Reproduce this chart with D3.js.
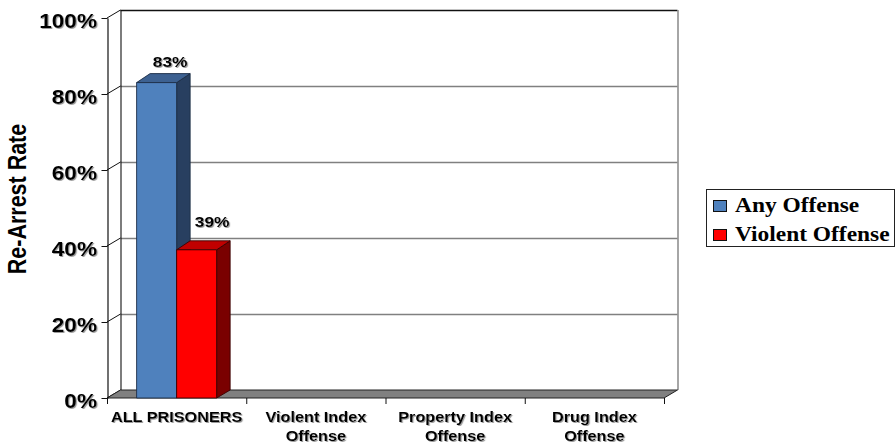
<!DOCTYPE html>
<html>
<head>
<meta charset="utf-8">
<script src="https://cdn.jsdelivr.net/npm/d3@7"></script>
<style>
  html, body { margin: 0; padding: 0; background: #fff; }
  svg { display: block; }
</style>
</head>
<body>
<svg id="chart" width="896" height="445"></svg>
<script>
// ---- data ----
const categories = ["ALL PRISONERS", "Violent Index\nOffense", "Property Index\nOffense", "Drug Index\nOffense"];
const seriesNames = ["Any Offense", "Violent Offense"];
const anyOffense = [0.83, null, null, null];
const violentOffense = [0.39, null, null, null];
const yTicks = [0, 0.2, 0.4, 0.6, 0.8, 1.0];
const yTitle = "Re-Arrest Rate";

// ---- style ----
const SX = 1.16; // horizontal stretch of the original image
const seriesStyle = [
  { front: "#4F81BD", top: "#3D6191", side: "#283F60", stroke: "#1c2d45", labelDx: 13.5, labelDy: 16 },
  { front: "#FF0000", top: "#C00000", side: "#7A0000", stroke: "#3a0000", labelDx: 15.5, labelDy: 22.5 }
];
const seriesValues = [anyOffense, violentOffense];

const svg = d3.select("#chart");
const defs = svg.append("defs");
const f = defs.append("filter").attr("id", "shadow").attr("x", "-10%").attr("y", "-20%").attr("width", "130%").attr("height", "160%");
f.append("feDropShadow").attr("dx", 1).attr("dy", 1).attr("stdDeviation", 0.6)
  .attr("flood-color", "#666").attr("flood-opacity", 0.65);

// ---- scales ----
const x = d3.scaleBand().domain(categories).range([107, 664]).paddingInner(0).paddingOuter(0);
const xs = d3.scaleBand().domain(seriesNames).range([0, x.bandwidth()]).paddingInner(0).paddingOuter(0.74);
const y = d3.scaleLinear().domain([0, 1]).range([398, 18]);
const DX = 13.5, DY = 8;

const x0 = x.range()[0], x1 = x.range()[1];

// ---- back wall ----
const wall = svg.append("g");
wall.selectAll("line.grid").data(yTicks.filter(t => t > 0 && t < 1)).join("line")
  .attr("x1", x0 + DX).attr("x2", x1 + DX)
  .attr("y1", d => y(d) - DY + 0.5).attr("y2", d => y(d) - DY + 0.5)
  .attr("stroke", "#808080").attr("stroke-width", 1.4);
// top edge
wall.append("line").attr("x1", x0 + DX).attr("x2", x1 + DX)
  .attr("y1", y(1) - DY + 0.5).attr("y2", y(1) - DY + 0.5)
  .attr("stroke", "#111").attr("stroke-width", 1.3);
// right edge
wall.append("line").attr("x1", x1 + DX + 0.5).attr("x2", x1 + DX + 0.5)
  .attr("y1", y(1) - DY).attr("y2", y(0) - DY)
  .attr("stroke", "#808080").attr("stroke-width", 1.4);
// left back edge
wall.append("line").attr("x1", x0 + DX + 0.5).attr("x2", x0 + DX + 0.5)
  .attr("y1", y(1) - DY).attr("y2", y(0) - DY)
  .attr("stroke", "#111").attr("stroke-width", 1.1);
// side wall diagonals
wall.selectAll("line.diag").data(yTicks).join("line")
  .attr("x1", x0).attr("y1", d => y(d))
  .attr("x2", x0 + DX).attr("y2", d => y(d) - DY)
  .attr("stroke", "#111").attr("stroke-width", 1);

// ---- floor ----
svg.append("polygon")
  .attr("points", [[x0, y(0)], [x1, y(0)], [x1 + DX, y(0) - DY], [x0 + DX, y(0) - DY]].map(p => p.join(",")).join(" "))
  .attr("fill", "#808080").attr("stroke", "#222").attr("stroke-width", 1);

// ---- y axis ----
const yAxis = d3.axisLeft(y).tickValues(yTicks).tickFormat(d3.format(".0%")).tickSize(6).tickSizeOuter(0);
const ya = svg.append("g").attr("transform", `translate(${x0 + 0.5},0)`).call(yAxis);
ya.select(".domain").attr("stroke", "#111").attr("stroke-width", 1.2);
ya.selectAll(".tick line").attr("stroke", "#111").attr("stroke-width", 1);
ya.selectAll(".tick text")
  .attr("x", -10.5 / SX).attr("dy", null).attr("y", 9)
  .attr("transform", `scale(${SX},1)`)
  .attr("font-family", "'Liberation Sans', Arial, sans-serif")
  .attr("font-weight", "bold").attr("font-size", 19.5).attr("fill", "#000")
  .attr("filter", "url(#shadow)");

// ---- x axis ticks & labels ----
const xa = svg.append("g");
const boundaries = categories.map(c => x(c)).concat([x1]);
xa.selectAll("line").data(boundaries).join("line")
  .attr("x1", d => d + 0.5).attr("x2", d => d + 0.5)
  .attr("y1", y(0)).attr("y2", y(0) + 6)
  .attr("stroke", "#111").attr("stroke-width", 1);
const catLabels = xa.selectAll("g.cat").data(categories).join("g")
  .attr("transform", d => `translate(${x(d) + x.bandwidth() / 2},422) scale(${SX},1)`);
catLabels.each(function(d) {
  const t = d3.select(this).append("text")
    .attr("text-anchor", "middle")
    .attr("font-family", "'Liberation Sans', Arial, sans-serif")
    .attr("font-weight", "bold").attr("font-size", 14).attr("fill", "#000")
    .attr("filter", "url(#shadow)");
  d.split("\n").forEach((line, i) => {
    t.append("tspan").attr("x", 0).attr("y", i * 19).text(line);
  });
});

// ---- bars ----
const bars = svg.append("g");
seriesNames.forEach((s, si) => {
  const st = seriesStyle[si];
  categories.forEach((c, ci) => {
    const v = seriesValues[si][ci];
    if (v == null) return;
    const bx0 = x(c) + xs(s), bx1 = bx0 + xs.bandwidth();
    const by0 = y(0), by1 = y(v);
    const g = bars.append("g").attr("stroke", st.stroke).attr("stroke-width", 0.9).attr("stroke-linejoin", "round");
    // side
    g.append("polygon").attr("points", [[bx1, by1], [bx1 + DX, by1 - DY - 1], [bx1 + DX, by0 - DY], [bx1, by0]].map(p => p.join(",")).join(" "))
      .attr("fill", st.side);
    // top
    g.append("polygon").attr("points", [[bx0, by1], [bx1, by1], [bx1 + DX, by1 - DY - 1], [bx0 + DX, by1 - DY - 1]].map(p => p.join(",")).join(" "))
      .attr("fill", st.top);
    // front
    g.append("rect").attr("x", bx0).attr("y", by1).attr("width", bx1 - bx0).attr("height", by0 - by1)
      .attr("fill", st.front);
    // value label
    svg.append("text")
      .attr("transform", `translate(${(bx0 + bx1) / 2 + st.labelDx},${by1 - st.labelDy}) scale(${SX},1)`)
      .attr("text-anchor", "middle")
      .attr("font-family", "'Liberation Sans', Arial, sans-serif")
      .attr("font-weight", "bold").attr("font-size", 15).attr("fill", "#000")
      .attr("filter", "url(#shadow)")
      .text(d3.format(".0%")(v));
  });
});

// ---- y title ----
svg.append("text")
  .attr("transform", `translate(26,199) scale(${SX},1) rotate(-90)`)
  .attr("text-anchor", "middle")
  .attr("font-family", "'Liberation Sans', Arial, sans-serif")
  .attr("font-weight", "bold").attr("font-size", 21.5).attr("fill", "#000")
  .text(yTitle);

// ---- legend ----
const lg = svg.append("g");
lg.append("rect").attr("x", 706.5).attr("y", 189.5).attr("width", 188).attr("height", 57)
  .attr("fill", "#fff").attr("stroke", "#222").attr("stroke-width", 1);
const items = lg.selectAll("g.item").data(seriesNames).join("g")
  .attr("transform", (d, i) => `translate(0,${i * 29})`);
items.append("rect").attr("x", 713.5).attr("y", 200.5).attr("width", 13).attr("height", 11)
  .attr("fill", (d, i) => seriesStyle[i].front).attr("stroke", "#111").attr("stroke-width", 1);
items.append("text")
  .attr("transform", `translate(735,212) scale(${SX},1)`)
  .attr("font-family", "'Liberation Serif', 'Times New Roman', serif")
  .attr("font-weight", "bold").attr("font-size", 20.2).attr("fill", "#000")
  .text(d => d);
</script>
</body>
</html>
